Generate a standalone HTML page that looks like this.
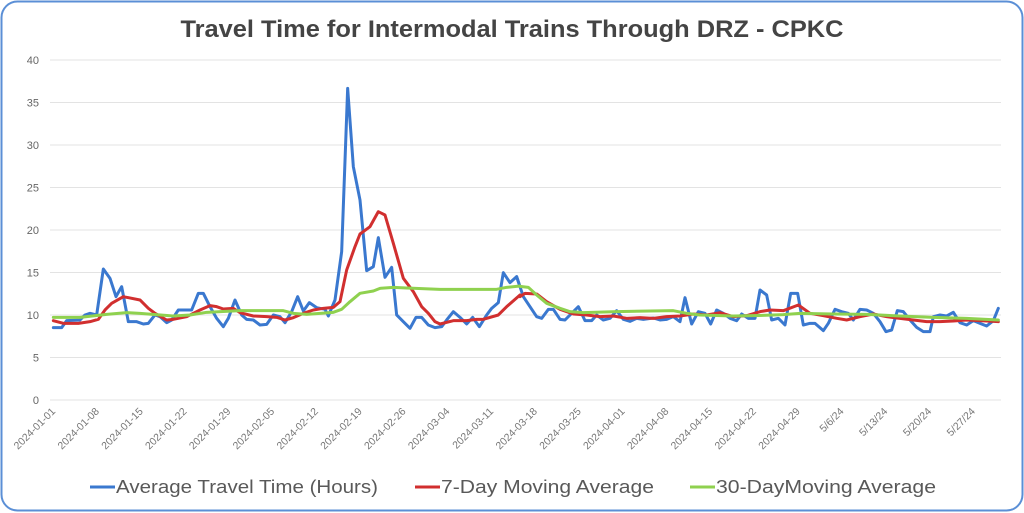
<!DOCTYPE html>
<html><head><meta charset="utf-8"><style>
html,body{margin:0;padding:0;background:#fff;}
svg{display:block;font-family:"Liberation Sans",sans-serif;}
</style></head><body>
<svg width="1024" height="513" viewBox="0 0 1024 513" xmlns="http://www.w3.org/2000/svg">
<rect x="1.5" y="1.5" width="1021" height="509" rx="16" fill="#fff" stroke="#5b8fd6" stroke-width="2"/>
<text x="512" y="37" text-anchor="middle" font-size="24" font-weight="bold" fill="#444" textLength="663" lengthAdjust="spacingAndGlyphs">Travel Time for Intermodal Trains Through DRZ - CPKC</text>
<g stroke="#e3e3e3" stroke-width="1">
<line x1="50" x2="1001" y1="60" y2="60"/><line x1="50" x2="1001" y1="102.5" y2="102.5"/>
<line x1="50" x2="1001" y1="145" y2="145"/><line x1="50" x2="1001" y1="187.5" y2="187.5"/>
<line x1="50" x2="1001" y1="230" y2="230"/><line x1="50" x2="1001" y1="272.5" y2="272.5"/>
<line x1="50" x2="1001" y1="315" y2="315"/><line x1="50" x2="1001" y1="357.5" y2="357.5"/>
<line x1="50" x2="1001" y1="400" y2="400"/>
</g>
<g font-size="11" fill="#666" text-anchor="end">
<text x="39" y="64">40</text><text x="39" y="106.5">35</text><text x="39" y="149">30</text>
<text x="39" y="191.5">25</text><text x="39" y="234">20</text><text x="39" y="276.5">15</text>
<text x="39" y="319">10</text><text x="39" y="361.5">5</text><text x="39" y="404">0</text>
</g>
<g font-size="10.5" fill="#777" text-anchor="end">
<text transform="translate(56,412) rotate(-45)">2024-01-01</text>
<text transform="translate(99.8,412) rotate(-45)">2024-01-08</text>
<text transform="translate(143.6,412) rotate(-45)">2024-01-15</text>
<text transform="translate(187.4,412) rotate(-45)">2024-01-22</text>
<text transform="translate(231.2,412) rotate(-45)">2024-01-29</text>
<text transform="translate(275,412) rotate(-45)">2024-02-05</text>
<text transform="translate(318.8,412) rotate(-45)">2024-02-12</text>
<text transform="translate(362.6,412) rotate(-45)">2024-02-19</text>
<text transform="translate(406.4,412) rotate(-45)">2024-02-26</text>
<text transform="translate(450.2,412) rotate(-45)">2024-03-04</text>
<text transform="translate(494,412) rotate(-45)">2024-03-11</text>
<text transform="translate(537.8,412) rotate(-45)">2024-03-18</text>
<text transform="translate(581.6,412) rotate(-45)">2024-03-25</text>
<text transform="translate(625.4,412) rotate(-45)">2024-04-01</text>
<text transform="translate(669.2,412) rotate(-45)">2024-04-08</text>
<text transform="translate(713,412) rotate(-45)">2024-04-15</text>
<text transform="translate(756.8,412) rotate(-45)">2024-04-22</text>
<text transform="translate(800.6,412) rotate(-45)">2024-04-29</text>
<text transform="translate(844.4,412) rotate(-45)">5/6/24</text>
<text transform="translate(888.2,412) rotate(-45)">5/13/24</text>
<text transform="translate(932,412) rotate(-45)">5/20/24</text>
<text transform="translate(975.8,412) rotate(-45)">5/27/24</text>
</g>
<g fill="none" stroke-linejoin="round" stroke-linecap="round">
<g transform="translate(40,80) scale(0.33333)">
<polyline vector-effect="non-scaling-stroke" stroke="#3a78cf" stroke-width="3" points="40,743 65,743 80,722 120,720 135,705 150,700 170,705 190,567 210,595 228,650 245,620 265,725 290,725 310,732 325,730 345,705 360,710 380,728 395,720 415,690 455,690 475,640 490,640 510,680 530,715 550,740 565,715 585,660 605,705 620,718 640,720 660,735 680,733 700,705 720,710 735,728 755,695 773,650 790,693 808,668 830,683 855,688 865,708 885,660 905,515 923,25 940,260 960,360 980,572 1000,560 1015,473 1035,592 1055,562 1070,705 1090,725 1110,745 1128,712 1145,712 1165,735 1185,743 1205,740 1220,720 1240,695 1260,712 1280,732 1298,712 1318,740 1340,705 1355,685 1375,668 1390,578 1410,608 1430,590 1440,620"/>
</g>
<g transform="translate(500,250) scale(0.33333)">
<polyline vector-effect="non-scaling-stroke" stroke="#3a78cf" stroke-width="3" points="50,80 70,140 90,170 110,200 125,205 145,178 160,178 180,208 195,210 215,190 235,170 255,212 275,212 290,195 310,210 330,205 350,182 370,208 390,214 410,205 430,208 460,204 480,210 500,208 520,200 540,215 555,143 575,222 595,185 615,190 632,222 650,180 670,190 690,205 710,212 725,192 745,205 765,205 780,120 800,135 815,210 835,205 855,225 872,130 893,130 910,225 930,220 945,220 970,242 985,220 1005,178 1025,185 1045,190 1060,210 1080,178 1100,180 1120,190 1140,215 1158,245 1175,240 1192,182 1210,185 1230,210 1250,232 1270,245 1290,245 1300,200 1320,195 1340,198 1360,187 1380,218 1400,225 1420,212 1440,220 1460,228 1480,212 1495,175"/>
</g>
<g transform="translate(40,80) scale(0.33333)">
<polyline vector-effect="non-scaling-stroke" stroke="#d12f2f" stroke-width="3" points="40,722 70,730 115,730 150,725 175,718 195,690 215,670 250,650 300,660 325,685 345,700 380,720 400,718 440,710 480,690 510,677 530,680 550,687 580,685 600,698 640,708 680,710 710,712 735,720 760,713 790,700 820,690 850,685 880,682 900,665 920,570 945,500 960,462 990,440 1015,395 1035,405 1060,490 1090,595 1120,635 1145,680 1165,700 1185,725 1200,732 1240,722 1280,722 1310,718 1330,718 1375,705 1400,680 1440,645"/>
</g>
<g transform="translate(500,250) scale(0.33333)">
<polyline vector-effect="non-scaling-stroke" stroke="#d12f2f" stroke-width="3" points="60,140 75,130 110,132 140,155 180,178 220,192 260,195 300,200 340,198 380,205 420,203 460,205 500,200 540,198 580,192 620,195 660,188 700,200 740,197 780,185 810,180 850,182 895,165 930,190 970,197 1010,205 1040,210 1080,200 1120,192 1160,200 1200,205 1240,210 1280,215 1320,215 1360,213 1400,210 1440,212 1495,215"/>
</g>
<g transform="translate(40,80) scale(0.33333)">
<polyline vector-effect="non-scaling-stroke" stroke="#8fd14f" stroke-width="3" points="40,712 120,712 200,703 260,698 300,700 400,708 450,705 500,697 600,692 730,692 760,700 800,703 880,697 905,688 930,665 960,640 1000,633 1020,625 1060,622 1100,624 1200,628 1300,628 1370,628 1400,622 1440,618"/>
</g>
<g transform="translate(500,250) scale(0.33333)">
<polyline vector-effect="non-scaling-stroke" stroke="#8fd14f" stroke-width="3" points="60,109 85,112 110,135 140,160 180,175 210,185 250,188 350,185 450,183 520,182 560,190 600,195 700,198 760,197 850,194 900,190 1000,192 1100,193 1200,198 1300,202 1400,205 1495,210"/>
</g>
</g>
<g font-size="18" fill="#595959">
<line x1="90" x2="115" y1="487" y2="487" stroke="#3a78cf" stroke-width="3"/>
<text x="116" y="493" textLength="262" lengthAdjust="spacingAndGlyphs">Average Travel Time (Hours)</text>
<line x1="415" x2="440" y1="487" y2="487" stroke="#d12f2f" stroke-width="3"/>
<text x="441" y="493" textLength="213" lengthAdjust="spacingAndGlyphs">7-Day Moving Average</text>
<line x1="690" x2="715" y1="487" y2="487" stroke="#8fd14f" stroke-width="3"/>
<text x="716" y="493" textLength="220" lengthAdjust="spacingAndGlyphs">30-DayMoving Average</text>
</g>
</svg>
</body></html>
